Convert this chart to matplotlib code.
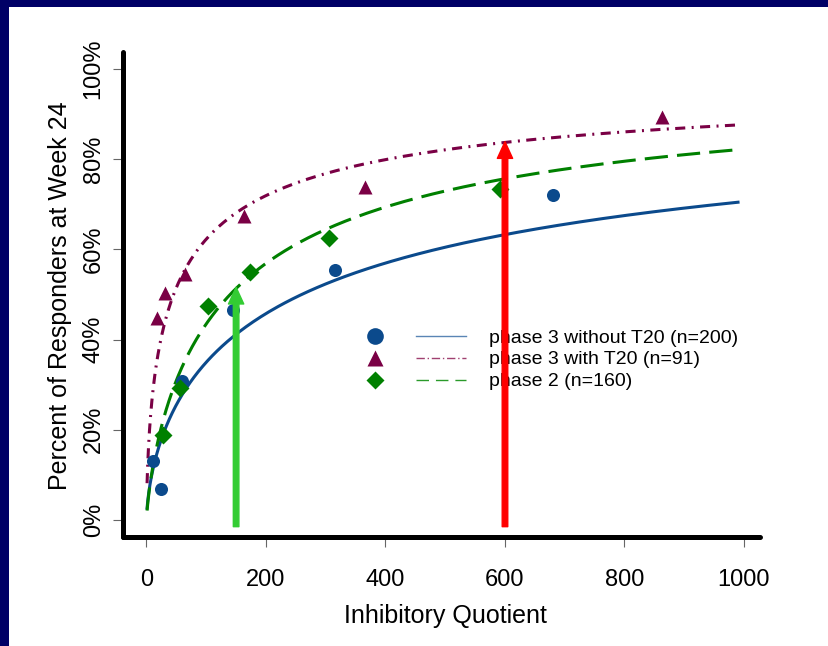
import numpy as np
import matplotlib
matplotlib.use("Agg")
import matplotlib.pyplot as plt
from matplotlib.lines import Line2D
from matplotlib.patches import Rectangle
from matplotlib.legend_handler import HandlerTuple

plt.rcParams['font.family'] = ['Liberation Sans', 'DejaVu Sans']

# observed responder rates (percent) by inhibitory quotient
p3_iq = [11, 25, 59, 145, 315, 681]
p3_resp = [13.0, 6.9, 30.8, 46.5, 55.5, 72.0]

p3t20_iq = [17, 31, 64, 164, 366, 863]
p3t20_resp = [44.9, 50.3, 54.6, 67.5, 73.9, 89.3]

p2_iq = [27, 56, 103, 173, 306, 592]
p2_resp = [18.9, 29.3, 47.5, 54.9, 62.5, 73.3]

# fitted logistic-in-log(IQ) curves: EC50 and slope per group
fit_ec50 = [259.6, 45.4, 140.0]
fit_hill = [0.65, 0.635, 0.78]

labels = ["phase 3 without T20 (n=200)", "phase 3 with T20 (n=91)", "phase 2 (n=160)"]

# reference IQ cut-offs and the response predicted there
arrow_iq = [150, 600]
arrow_top = [51.6, 83.9]

blue = '#0B4A8C'
maroon = '#7A0045'
green = '#008000'

fig = plt.figure(figsize=(8.29, 6.46), dpi=100)
fig.patch.set_facecolor('white')
fig.patches.append(Rectangle((0, 1 - 7 / 646), 1, 7 / 646, transform=fig.transFigure,
                             facecolor='#000066', edgecolor='none', zorder=0))
fig.patches.append(Rectangle((0, 0), 9 / 829, 1, transform=fig.transFigure,
                             facecolor='#000066', edgecolor='none', zorder=0))

ax = fig.add_axes([123 / 829, 109 / 646, 637 / 829, 485 / 646])
ax.set_xlim(-39.3, 1026.8)
ax.set_ylim(-3.79, 103.8)

xx = np.geomspace(1, 990, 400)

def fitted(ec50, hill):
    return 100.0 / (1.0 + (ec50 / xx) ** hill)

ax.plot(xx, fitted(fit_ec50[0], fit_hill[0]), color=blue, lw=2.2, zorder=3)
ax.plot(xx, fitted(fit_ec50[1], fit_hill[1]), color=maroon, lw=2.2,
        dashes=(3.3, 2.1, 0.65, 2.1), zorder=3)
ax.plot(xx, fitted(fit_ec50[2], fit_hill[2]), color=green, lw=2.2,
        dashes=(7.6, 3.0), zorder=3)

ax.plot(p3_iq, p3_resp, 'o', color=blue, ms=9.4, mec='none', zorder=4)
ax.plot(p3t20_iq, p3t20_resp, '^', color=maroon, ms=10, mec='none', zorder=4)
ax.plot(p2_iq, p2_resp, 'D', color=green, ms=9, mec='none', zorder=4)

for x, top, col in zip(arrow_iq, arrow_top, ['#33CC33', '#FF0000']):
    ax.annotate("", xy=(x, top), xytext=(x, -1.5),
                arrowprops=dict(arrowstyle="simple,head_length=1.2,head_width=1.1,tail_width=0.4",
                                mutation_scale=10, color=col, shrinkA=0, shrinkB=0),
                zorder=6)

# axes styling
for side in ['top', 'right']:
    ax.spines[side].set_visible(False)
for side in ['left', 'bottom']:
    ax.spines[side].set_linewidth(3.6)
    ax.spines[side].set_capstyle('round')

ax.set_xticks([0, 200, 400, 600, 800, 1000])
ax.set_yticks([0, 20, 40, 60, 80, 100])
ax.set_yticklabels([f"{v}%" for v in [0, 20, 40, 60, 80, 100]], rotation=90, va='center')
ax.tick_params(axis='both', direction='out', length=7.2, width=0.8, color='#666666', labelsize=17)
ax.tick_params(axis='x', pad=16)
ax.tick_params(axis='y', pad=6)

ax.set_xlabel("Inhibitory Quotient", fontsize=18, va='top')
ax.xaxis.set_label_coords((445 - 123) / 637, (537 - 604) / 485)
ax.set_ylabel("Percent of Responders at Week 24", fontsize=18, va='bottom')
ax.yaxis.set_label_coords((72 - 123) / 637, 0.497)

# legend: marker, line sample, label
handles = [
    (Line2D([], [], ls='none', marker='o', color=blue, ms=12, mec='none'),
     Line2D([], [], color='#5A85B5', lw=1.0)),
    (Line2D([], [], ls='none', marker='^', color=maroon, ms=12, mec='none'),
     Line2D([], [], color='#A04070', lw=1.0, dashes=(6, 2, 1, 2))),
    (Line2D([], [], ls='none', marker='D', color=green, ms=9.5, mec='none'),
     Line2D([], [], color='#2A9A2A', lw=1.0, dashes=(9, 5))),
]
leg = ax.legend(handles, labels, handler_map={tuple: HandlerTuple(ndivide=2, pad=0.82)},
                loc='upper left', bbox_to_anchor=(350 / 829, 1 - 329 / 646),
                bbox_transform=fig.transFigure, frameon=False, fontsize=14,
                handlelength=5.97, handletextpad=1.18, labelspacing=0.22,
                borderpad=0, borderaxespad=0, numpoints=1)
leg.set_zorder(5)

fig.savefig("out.png", dpi=100, facecolor='white')
